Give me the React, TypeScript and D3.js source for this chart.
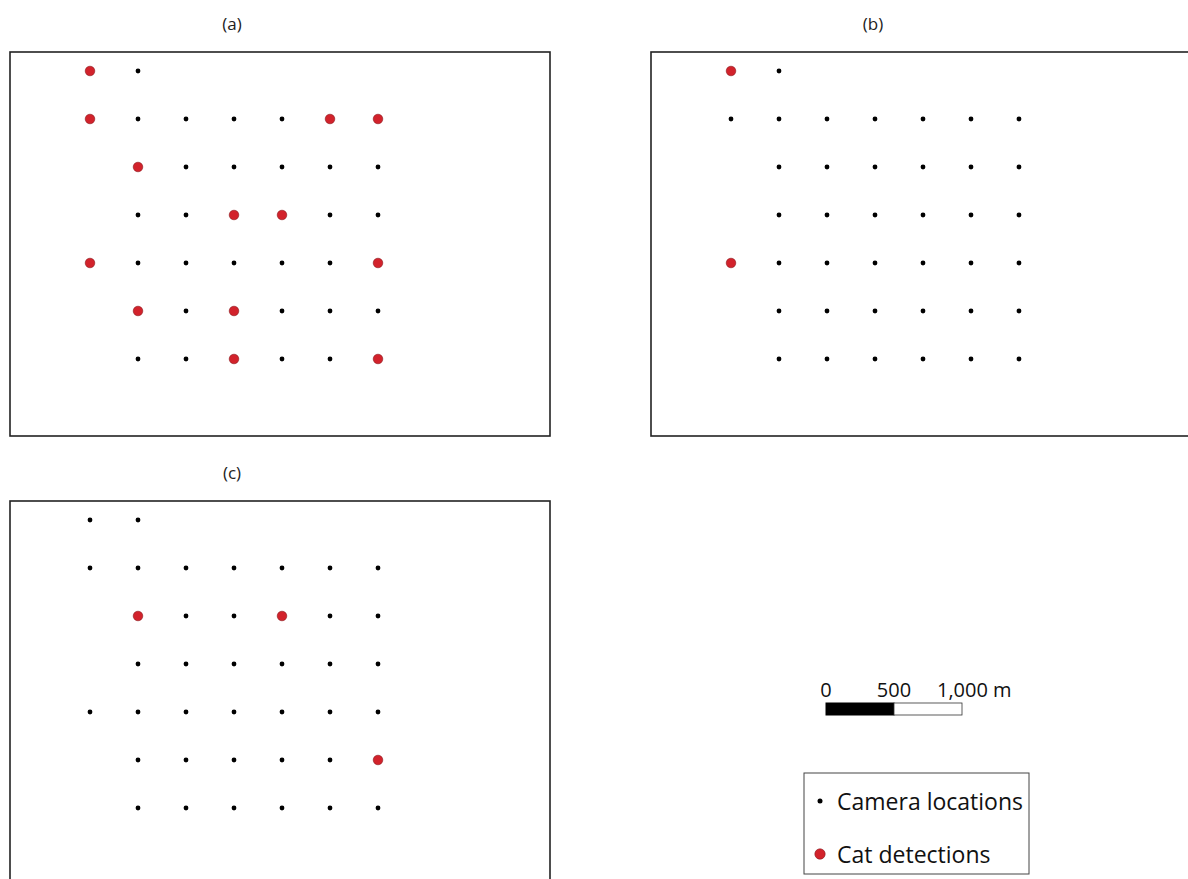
import React from "react";
import * as d3 from "d3";

// Camera grid: rows and the columns present in each row
const cameraRows: number[][] = [
  [0, 1],
  [0, 1, 2, 3, 4, 5, 6],
  [1, 2, 3, 4, 5, 6],
  [1, 2, 3, 4, 5, 6],
  [0, 1, 2, 3, 4, 5, 6],
  [1, 2, 3, 4, 5, 6],
  [1, 2, 3, 4, 5, 6],
];

// Cat detections [row, col] per panel
const detectionsA: [number, number][] = [
  [0, 0], [1, 0], [1, 5], [1, 6], [2, 1], [3, 3], [3, 4],
  [4, 0], [4, 6], [5, 1], [5, 3], [6, 3], [6, 6],
];
const detectionsB: [number, number][] = [[0, 0], [4, 0]];
const detectionsC: [number, number][] = [[2, 1], [2, 4], [5, 6]];

const panelTitles = ["(a)", "(b)", "(c)"];
const scaleTicks = [0, 500, 1000];
const legendItems = ["Camera locations", "Cat detections"];

const FONT = "'Open Sans', 'DejaVu Sans', sans-serif";
const RED = "#d2222b";

const cameras: [number, number][] = cameraRows.flatMap((cols, r) =>
  cols.map((c) => [r, c] as [number, number])
);

const colScale = d3.scaleLinear().domain([0, 6]).range([80, 368]);
const rowScale = d3.scaleLinear().domain([0, 6]).range([19, 307]);
const meterScale = d3.scaleLinear().domain([0, 1000]).range([0, 136]);

type PanelProps = { x: number; y: number; title: string; det: [number, number][] };

function Panel({ x, y, title, det }: PanelProps) {
  return (
    <g transform={`translate(${x},${y})`}>
      <text x={222} y={-22} textAnchor="middle" fontFamily={FONT} fontSize={17} fill="#222">
        {title}
      </text>
      <rect x={0} y={0} width={540} height={384} fill="none" stroke="#222" strokeWidth={1.6} />
      {cameras.map(([r, c], i) => (
        <circle key={i} cx={colScale(c)} cy={rowScale(r)} r={2.4} fill="#000" />
      ))}
      {det.map(([r, c], i) => (
        <circle key={"d" + i} cx={colScale(c)} cy={rowScale(r)} r={4.8} fill={RED} stroke="#8a1a1f" strokeWidth={0.6} />
      ))}
    </g>
  );
}

export default function App() {
  const sx = 826;
  const sy = 703;
  return (
    <svg width={1188} height={879} style={{ position: "absolute", left: 0, top: 0, background: "#fff" }}>
      <Panel x={10} y={52} title={panelTitles[0]} det={detectionsA} />
      <Panel x={651} y={52} title={panelTitles[1]} det={detectionsB} />
      <Panel x={10} y={501} title={panelTitles[2]} det={detectionsC} />

      {/* scale bar */}
      <g fontFamily={FONT} fontSize={20} fill="#111">
        <rect x={sx + meterScale(0)} y={sy} width={meterScale(500)} height={12} fill="#000" stroke="#000" />
        <rect x={sx + meterScale(500)} y={sy} width={meterScale(500)} height={12} fill="#fff" stroke="#333" strokeWidth={0.8} />
        {scaleTicks.map((t, i) => (
          <text key={t} x={sx + meterScale(t) + (i === 2 ? -25 : 0)} y={697} textAnchor={i === 2 ? "start" : "middle"}>
            {i === 2 ? `${d3.format(",")(t)} m` : d3.format(",")(t)}
          </text>
        ))}
      </g>

      {/* legend */}
      <g fontFamily={FONT} fontSize={23} fill="#111">
        <rect x={804} y={773} width={225} height={101} fill="#fff" stroke="#444" strokeWidth={1} />
        <circle cx={820} cy={801} r={2.5} fill="#000" />
        <text x={837} y={810}>{legendItems[0]}</text>
        <circle cx={820} cy={854} r={5.2} fill={RED} stroke="#8a1a1f" strokeWidth={0.6} />
        <text x={837} y={863}>{legendItems[1]}</text>
      </g>
    </svg>
  );
}
